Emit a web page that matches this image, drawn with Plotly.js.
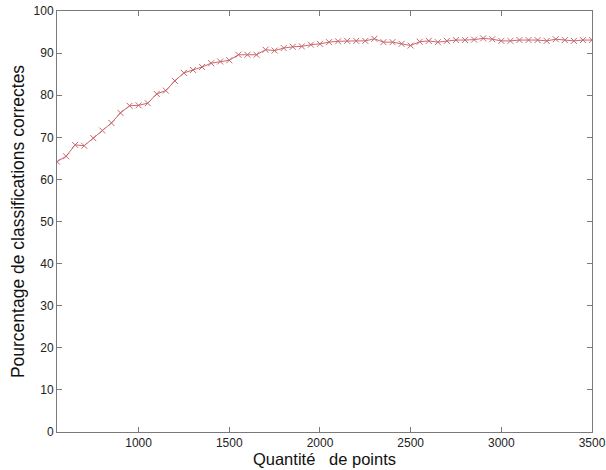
<!DOCTYPE html>
<html>
<head>
<meta charset="utf-8">
<script src="https://cdn.plot.ly/plotly-3.0.1.min.js"></script>
<style>html,body{margin:0;padding:0;background:#fff;}#chart{width:606px;height:470px;}</style>
</head>
<body>
<div id="chart"></div>
<script>
const pointCounts = [550,600,650,700,750,800,850,900,950,1000,1050,1100,1150,1200,1250,1300,1350,1400,1450,1500,
  1550,1600,1650,1700,1750,1800,1850,1900,1950,2000,2050,2100,2150,2200,2250,2300,2350,2400,2450,2500,
  2550,2600,2650,2700,2750,2800,2850,2900,2950,3000,3050,3100,3150,3200,3250,3300,3350,3400,3450,3500];
const accuracy = [64.2,65.5,68.2,68.0,69.8,71.6,73.4,75.8,77.5,77.6,78.1,80.3,81.1,83.4,85.3,86.0,86.7,87.6,88.0,88.3,
  89.6,89.6,89.6,90.8,90.6,91.2,91.5,91.6,92.0,92.2,92.6,92.8,92.9,92.9,92.9,93.4,92.6,92.6,92.2,91.8,
  92.7,92.9,92.6,92.9,93.1,93.1,93.2,93.5,93.3,92.9,92.9,93.1,93.1,93.1,92.9,93.3,93.1,92.9,93.1,93.1];
const xTicks = [1000,1500,2000,2500,3000,3500];
const yTicks = [0,10,20,30,40,50,60,70,80,90,100];

const col = '#c8686e';
const trace = {
  x: pointCounts, y: accuracy, type: 'scatter', mode: 'lines+markers',
  line: {color: col, width: 1},
  marker: {symbol: 'x-thin', size: 6, line: {color: col, width: 1}, color: col},
  hoverinfo: 'skip'
};
const axisCommon = {
  showline: true, linecolor: '#7a7a7a', linewidth: 1, mirror: 'ticks',
  ticks: 'inside', ticklen: 5, tickcolor: '#7a7a7a', tickwidth: 1,
  showgrid: false, zeroline: false,
  tickfont: {family: 'Liberation Sans, Arial, sans-serif', size: 12, color: '#222'}
};
const layout = {
  width: 606, height: 470,
  margin: {l: 57, r: 14, t: 11, b: 38},
  paper_bgcolor: '#fff', plot_bgcolor: '#fff',
  showlegend: false,
  xaxis: Object.assign({}, axisCommon, {
    range: [550, 3500], tickvals: xTicks, ticktext: xTicks.map(String),
    title: {text: 'Quantité\u00a0\u00a0 de points', standoff: 1,
      font: {family: 'Liberation Sans, Arial, sans-serif', size: 16.5, color: '#111'}}
  }),
  yaxis: Object.assign({}, axisCommon, {
    range: [0, 100], tickvals: yTicks, ticktext: yTicks.map(String),
    title: {text: 'Pourcentage de classifications correctes', standoff: 4,
      font: {family: 'Liberation Sans, Arial, sans-serif', size: 17.5, color: '#111'}}
  })
};
Plotly.newPlot('chart', [trace], layout, {staticPlot: true, displayModeBar: false});
</script>
</body>
</html>
